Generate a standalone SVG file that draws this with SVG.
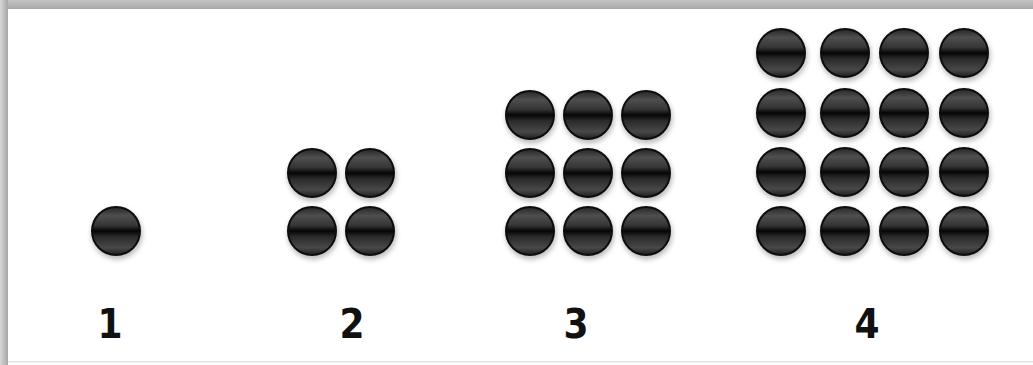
<svg xmlns="http://www.w3.org/2000/svg" width="1033" height="365" viewBox="0 0 1033 365">
<defs>
<linearGradient id="frameTop" x1="0" y1="0" x2="0" y2="1">
<stop offset="0" stop-color="#c4c4c4"/><stop offset="1" stop-color="#a8a8a8"/>
</linearGradient>
<linearGradient id="frameLeft" x1="0" y1="0" x2="1" y2="0">
<stop offset="0" stop-color="#d8d8d8"/><stop offset="1" stop-color="#a6a6a6"/>
</linearGradient>
<linearGradient id="ballFill" x1="0" y1="0" x2="0" y2="1">
<stop offset="0" stop-color="#262626"/>
<stop offset="0.18" stop-color="#4e4e4e"/>
<stop offset="0.38" stop-color="#363636"/>
<stop offset="0.5" stop-color="#050505"/>
<stop offset="0.62" stop-color="#2a2a2a"/>
<stop offset="0.85" stop-color="#484848"/>
<stop offset="1" stop-color="#1e1e1e"/>
</linearGradient>
<filter id="shadow" x="-30%" y="-30%" width="160%" height="170%">
<feGaussianBlur stdDeviation="2.5"/>
</filter>
<g id="ball">
<circle cx="1" cy="3" r="25.5" fill="#888" opacity="0.55" filter="url(#shadow)"/>
<circle cx="0" cy="0" r="24" fill="url(#ballFill)" stroke="#0d0d0d" stroke-width="2"/>
</g>
</defs>
<style>
.num { font-family: "DejaVu Sans Condensed", "DejaVu Sans", "Liberation Sans", sans-serif; font-weight: bold; font-size: 40px; fill: #111; text-anchor: middle; }
</style>
<rect x="0" y="0" width="1033" height="365" fill="#ffffff"/>
<rect x="0" y="0" width="1033" height="9" fill="url(#frameTop)"/>
<rect x="0" y="0" width="8" height="365" fill="url(#frameLeft)"/>
<rect x="8" y="361" width="1025" height="1.5" fill="#e2e2e2"/>

<g id="group1">
<use href="#ball" x="116" y="231"/>
<text class="num" x="110" y="338">1</text>
</g>
<g id="group2">
<use href="#ball" x="312" y="173"/><use href="#ball" x="370" y="173"/>
<use href="#ball" x="312" y="231"/><use href="#ball" x="370" y="231"/>
<text class="num" x="352" y="338">2</text>
</g>
<g id="group3">
<use href="#ball" x="530" y="115"/><use href="#ball" x="588" y="115"/><use href="#ball" x="646" y="115"/>
<use href="#ball" x="530" y="173"/><use href="#ball" x="588" y="173"/><use href="#ball" x="646" y="173"/>
<use href="#ball" x="530" y="231"/><use href="#ball" x="588" y="231"/><use href="#ball" x="646" y="231"/>
<text class="num" x="576" y="338">3</text>
</g>
<g id="group4">
<use href="#ball" x="781" y="53"/><use href="#ball" x="845" y="53"/><use href="#ball" x="904" y="53"/><use href="#ball" x="964" y="53"/>
<use href="#ball" x="781" y="113"/><use href="#ball" x="845" y="113"/><use href="#ball" x="904" y="113"/><use href="#ball" x="964" y="113"/>
<use href="#ball" x="781" y="172"/><use href="#ball" x="845" y="172"/><use href="#ball" x="904" y="172"/><use href="#ball" x="964" y="172"/>
<use href="#ball" x="781" y="231"/><use href="#ball" x="845" y="231"/><use href="#ball" x="904" y="231"/><use href="#ball" x="964" y="231"/>
<text class="num" x="867" y="338">4</text>
</g>
<g id="connectors"/>
</svg>
